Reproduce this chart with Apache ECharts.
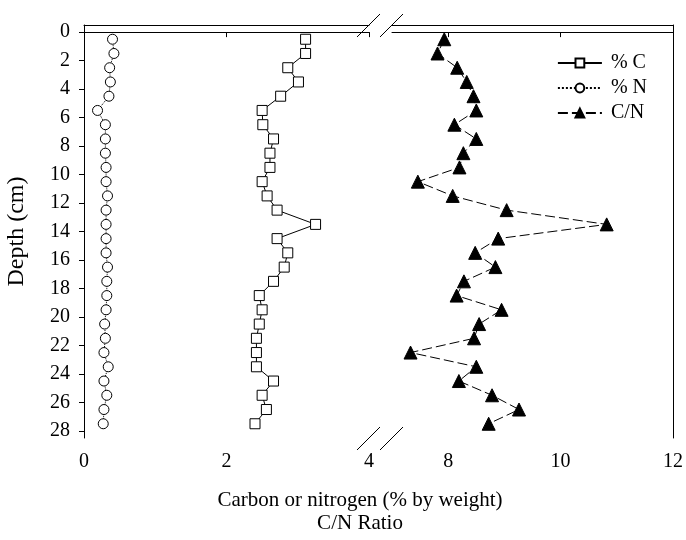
<!DOCTYPE html>
<html>
<head>
<meta charset="utf-8">
<script src="https://cdn.jsdelivr.net/npm/echarts@6/dist/echarts.min.js"></script>
<style>html,body{margin:0;padding:0;background:#fff;}#c{width:686px;height:540px;}</style>
</head>
<body>
<div id="c"></div>
<script>
// Depth (cm) of each sample
const depths = [0.5,1.5,2.5,3.5,4.5,5.5,6.5,7.5,8.5,9.5,10.5,11.5,12.5,13.5,14.5,15.5,16.5,17.5,18.5,19.5,20.5,21.5,22.5,23.5,24.5,25.5,26.5,27.5];
// % C (by weight)
const pctC = [3.11,3.11,2.86,3.01,2.76,2.50,2.51,2.66,2.61,2.61,2.50,2.57,2.71,3.25,2.71,2.86,2.81,2.66,2.46,2.50,2.46,2.42,2.42,2.42,2.66,2.50,2.56,2.40];
// % N (by weight)
const pctN = [0.40,0.42,0.36,0.37,0.35,0.19,0.30,0.30,0.30,0.31,0.31,0.33,0.31,0.31,0.31,0.31,0.33,0.32,0.32,0.31,0.29,0.30,0.28,0.34,0.28,0.32,0.28,0.27];
// C/N ratio
const ratioCN = [7.93,7.81,8.16,8.33,8.45,8.50,8.11,8.50,8.27,8.20,7.46,8.08,9.04,10.82,8.89,8.48,8.84,8.28,8.15,8.95,8.55,8.46,7.33,8.50,8.19,8.78,9.26,8.72];
// tick labels
const depthTicks = [0,2,4,6,8,10,12,14,16,18,20,22,24,26,28];
const leftXTicks = [0,2,4];
const rightXTicks = [8,10,12];

const FONT = 'Liberation Serif';
const chart = echarts.init(document.getElementById('c'), null, {renderer:'canvas'});

const pairs = (vals) => vals.map((v,i)=>[v, depths[i]]);

const blackLine = {show:true, lineStyle:{color:'#000', width:1}};
const yBase = {
  type:'value', min:-0.5, max:28.5, inverse:true,
  splitLine:{show:false}
};

chart.setOption({
  animation:false,
  backgroundColor:'#fff',
  grid:[
    {left:84, top:25, width:285, height:413},
    {left:392, top:25, width:283, height:413}
  ],
  xAxis:[
    {gridIndex:0, type:'value', min:0, max:4, position:'bottom',
     axisLine:blackLine,
     axisTick:{show:true, inside:false, length:5, customValues:leftXTicks, lineStyle:{color:'#000'}},
     axisLabel:{color:'#000', fontFamily:FONT, fontSize:20, margin:14, customValues:leftXTicks}, splitLine:{show:false}},
    {gridIndex:1, type:'value', min:7, max:12, position:'bottom',
     axisLine:blackLine,
     axisTick:{show:true, length:5, customValues:rightXTicks, lineStyle:{color:'#000'}},
     axisLabel:{color:'#000', fontFamily:FONT, fontSize:20, margin:14, customValues:rightXTicks}, splitLine:{show:false}},
    {gridIndex:0, type:'value', min:0, max:4, position:'top',
     axisLine:blackLine, axisTick:{show:false}, axisLabel:{show:false}, splitLine:{show:false}},
    {gridIndex:1, type:'value', min:7, max:12, position:'top',
     axisLine:blackLine, axisTick:{show:false}, axisLabel:{show:false}, splitLine:{show:false}}
  ],
  yAxis:[
    Object.assign({}, yBase, {gridIndex:0, position:'left',
      name:'Depth (cm)', nameLocation:'middle', nameGap:55,
      nameTextStyle:{color:'#000', fontFamily:FONT, fontSize:24},
      axisLine:blackLine,
      axisTick:{show:true, length:5, customValues:depthTicks, lineStyle:{color:'#000'}},
      axisLabel:{color:'#000', fontFamily:FONT, fontSize:20, margin:14, customValues:depthTicks}}),
    Object.assign({}, yBase, {gridIndex:1, position:'right',
      axisLine:blackLine, axisTick:{show:false}, axisLabel:{show:false}})
  ],
  legend:{
    right:34, top:48, orient:'vertical', itemGap:5, itemWidth:44, itemHeight:11,
    textStyle:{color:'#000', fontFamily:FONT, fontSize:20, padding:[0,0,0,4]},
    data:['% C','% N','C/N']
  },
  series:[
    {name:'% C', type:'line', xAxisIndex:0, yAxisIndex:0, data:pairs(pctC),
     symbol:'rect', symbolSize:10, showSymbol:true,
     lineStyle:{color:'#000', width:1},
     itemStyle:{color:'#fff', borderColor:'#000', borderWidth:1}},
    {name:'% N', type:'line', xAxisIndex:0, yAxisIndex:0, data:pairs(pctN),
     symbol:'circle', symbolSize:10, showSymbol:true,
     lineStyle:{color:'#000', width:1, type:'dotted'},
     itemStyle:{color:'#fff', borderColor:'#000', borderWidth:1}},
    {name:'C/N', type:'line', xAxisIndex:1, yAxisIndex:1, data:pairs(ratioCN),
     symbol:'triangle', symbolSize:13, showSymbol:true,
     lineStyle:{color:'#000', width:1, type:[10,4]},
     itemStyle:{color:'#000', borderColor:'#000', borderWidth:1}}
  ],
  graphic:[
    {type:'line', shape:{x1:357,y1:450,x2:380,y2:427}, style:{stroke:'#000', lineWidth:1}},
    {type:'line', shape:{x1:380,y1:450,x2:403,y2:427}, style:{stroke:'#000', lineWidth:1}},
    {type:'line', shape:{x1:357,y1:37,x2:380,y2:14}, style:{stroke:'#000', lineWidth:1}},
    {type:'line', shape:{x1:380,y1:37,x2:403,y2:14}, style:{stroke:'#000', lineWidth:1}},
    {type:'text', x:360, y:489,
     style:{text:'Carbon or nitrogen (% by weight)\nC/N Ratio', fill:'#000', font:'21px "Liberation Serif"', textAlign:'center', lineHeight:23}}
  ]
});
</script>
</body>
</html>
